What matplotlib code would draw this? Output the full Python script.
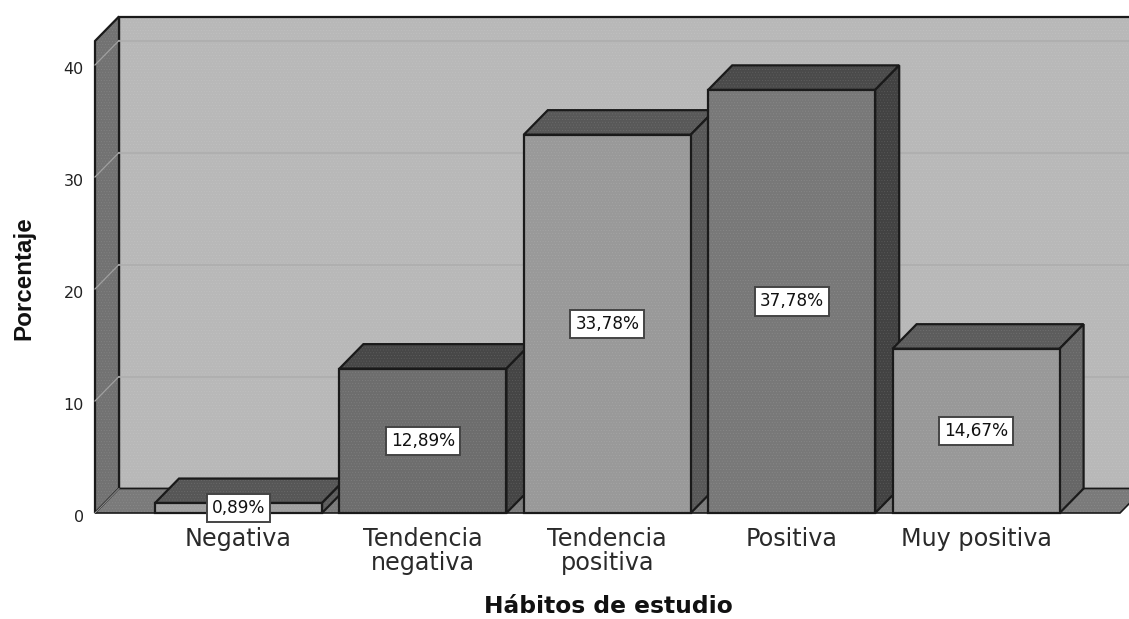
import matplotlib
matplotlib.use("Agg")
import matplotlib.pyplot as plt
from matplotlib.patches import Polygon
from matplotlib.transforms import ScaledTranslation

# Datos
categorias = ["Negativa", "Tendencia\nnegativa", "Tendencia\npositiva", "Positiva", "Muy positiva"]
porcentajes = [0.89, 12.89, 33.78, 37.78, 14.67]
etiquetas = ["0,89%", "12,89%", "33,78%", "37,78%", "14,67%"]
ticks_y = [0, 10, 20, 30, 40]

# Colores de cada barra
col_frente = ["#a0a0a0", "#6d6d6d", "#999999", "#787878", "#989898"]
col_techo = ["#565656", "#474747", "#585858", "#4a4a4a", "#5c5c5c"]
col_lado = ["#5c5c5c", "#454545", "#585858", "#424242", "#666666"]

W, H = 1129, 619
px_x = 184.4    # pixeles entre categorias
px_y = 11.2     # pixeles por unidad
x0 = 238.5      # pixel de la primera categoria
y0 = 513        # pixel del cero

prof_x = 24 / px_x
prof_y = 24.5 / px_y
ancho = 167 / px_x
izq = (95 - x0) / px_x
der = (1120 - x0) / px_x
techo = (513 - 41) / px_y
borde = "#1a1a1a"

plt.rcParams["hatch.linewidth"] = 0.4

fig = plt.figure(figsize=(W / 100, H / 100), dpi=100)
ax = fig.add_axes([0, 0, 1, 1])
ax.set_xlim(-x0 / px_x, (W - x0) / px_x)
ax.set_ylim(-(H - y0) / px_y, y0 / px_y)


def poli(puntos, color, z, lw=1.6, ec=borde):
    ax.add_patch(Polygon(puntos, closed=True, facecolor=color, edgecolor="none", zorder=z))
    # punteado fino
    ax.add_patch(Polygon(puntos, closed=True, facecolor="none", edgecolor=(1, 1, 1, 0.1), hatch="......", linewidth=0, zorder=z))
    ax.add_patch(Polygon(puntos, closed=True, facecolor="none", edgecolor=ec, linewidth=lw, zorder=z, joinstyle="miter"))


# Paredes y suelo
poli([(izq + prof_x, prof_y), (izq + prof_x, techo + prof_y), (der + prof_x + 1, techo + prof_y), (der + prof_x + 1, prof_y)], "#b8b8b8", 1)
poli([(izq, 0), (izq, techo), (izq + prof_x, techo + prof_y), (izq + prof_x, prof_y)], "#727272", 2)
poli([(izq, 0), (izq + prof_x, prof_y), (der + prof_x, prof_y), (der, 0)], "#7a7a7a", 2, lw=1.2)

# Rejilla
for t in ticks_y[1:]:
    ax.plot([izq, izq + prof_x], [t, t + prof_y], color="#a0a0a0", lw=0.9, zorder=3)
    ax.plot([izq + prof_x, der + prof_x + 1], [t + prof_y, t + prof_y], color="#adadad", lw=1.1, zorder=3)
ax.plot([izq, izq + prof_x], [0, prof_y], color="#959595", lw=0.7, zorder=3)

# Barras en 3D
for i, v in enumerate(porcentajes):
    a = i - ancho / 2
    b = i + ancho / 2
    z = 5 + i
    poli([(a, v), (a + prof_x, v + prof_y), (b + prof_x, v + prof_y), (b, v)], col_techo[i], z)
    poli([(b, 0), (b + prof_x, prof_y), (b + prof_x, v + prof_y), (b, v)], col_lado[i], z)
    poli([(a, 0), (a, v), (b, v), (b, 0)], col_frente[i], z)
    ax.text(i, v / 2, etiquetas[i], ha="center", va="center", fontsize=12.2, color="#111111", zorder=20,
            bbox=dict(boxstyle="square,pad=0.3", facecolor="white", edgecolor="#444444", linewidth=1.4))

# Ejes
for lado in ["top", "right", "left", "bottom"]:
    ax.spines[lado].set_visible(False)
ax.spines["left"].set_position(("data", izq))
ax.spines["bottom"].set_position(("data", 0))
ax.set_yticks(ticks_y)
ax.set_xticks(range(len(categorias)))
ax.set_xticklabels(categorias, fontsize=17.2, color="#2a2a2a", linespacing=1.0)
ax.tick_params(axis="x", length=0, pad=10)
ax.tick_params(axis="y", length=0, pad=8, labelsize=11.5, labelcolor="#222222")
bajar = ScaledTranslation(0, -3 / 100, fig.dpi_scale_trans)
for lab in ax.get_yticklabels():
    lab.set_transform(lab.get_transform() + bajar)

ax.text(0.5385, 0.02, "Hábitos de estudio", transform=ax.transAxes, ha="center", va="center",
        fontsize=16.8, fontweight="bold", color="#111111", family="DejaVu Sans")
ax.text(0.0212, 0.551, "Porcentaje", transform=ax.transAxes, ha="center", va="center", rotation=90,
        fontsize=17.4, fontweight="bold", color="#111111", family="Liberation Sans")

fig.savefig("out.png", dpi=100, facecolor="white")
